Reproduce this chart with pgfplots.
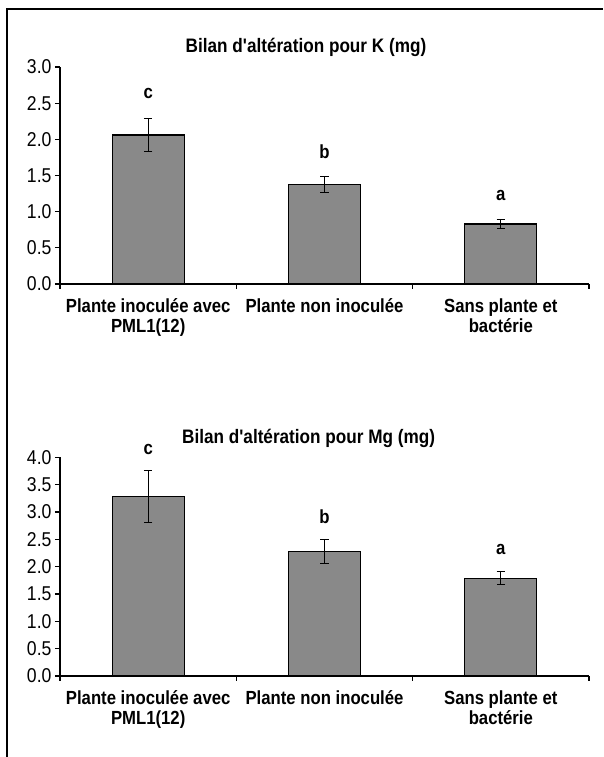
\documentclass[border=0pt]{standalone}
\usepackage{fontspec}
\setmainfont{Liberation Sans}
\newfontfamily\cond[FakeStretch=0.88]{Liberation Sans}
\usepackage{pgfplots}
\pgfplotsset{compat=1.18}
\definecolor{barfill}{RGB}{137,137,137}
\tikzset{lett/.style={font=\cond\bfseries\fontsize{19}{20}\selectfont},
  ttl/.style={font=\cond\bfseries\fontsize{19.5}{22}\selectfont, anchor=base}}
\pgfplotsset{
  mybar/.style={
    scale only axis, width=529pt,
    xmin=-0.5, xmax=2.5, ymin=0,
    axis x line=bottom, axis y line=left,
    axis line style={-, line width=1.1pt, black},
    xtick={-0.5,0.5,1.5,2.5}, xticklabels={},
    extra x ticks={0,1,2},
    extra x tick labels={{Plante inoculée avec\\PML1(12)},{Plante non inoculée},{Sans plante et\\bactérie}},
    extra x tick style={major tick length=0pt},
    xticklabel style={font=\cond\bfseries\fontsize{19}{20}\selectfont, align=center, yshift=-11pt},
    tick align=outside, major tick length=5pt,
    tick style={line width=1.1pt, black},
    ytick distance=0.5,
    yticklabel style={font=\cond\fontsize{20}{22}\selectfont, /pgf/number format/.cd, fixed, fixed zerofill, precision=1, assume math mode=true},
    clip=false,
    ybar, bar width=72pt,
  },
  mybars/.style={fill=barfill, draw=black, line width=1.1pt,
    error bars/.cd, y dir=both, y explicit,
    error bar style={line width=1.1pt, black},
    error mark options={rotate=90, mark size=4.3pt, line width=1.1pt, black}},
}
\begin{document}
\begin{tikzpicture}
\useasboundingbox (0,0) rectangle (603pt,757pt);
\fill[white] (0,0) rectangle (603pt,757pt);
\draw[line width=2pt] (7pt,0) -- (7pt,748pt) -- (603pt,748pt);
% Top: K
\begin{axis}[mybar, at={(60pt,473pt)}, anchor=south west, height=217pt, ymax=3]
\addplot[mybars] coordinates {
  (0,2.06) +- (0,0.23)
  (1,1.38) +- (0,0.11)
  (2,0.83) +- (0,0.065)
};
\node[lett] at (axis cs:0,2.63) {c};
\node[lett] at (axis cs:1,1.83) {b};
\node[lett] at (axis cs:2,1.23) {a};
\node[ttl] at (axis description cs:0.465,1.069) {Bilan d'altération pour K (mg)};
\end{axis}
% Bottom: Mg
\begin{axis}[mybar, at={(60pt,81pt)}, anchor=south west, height=218.7pt, ymax=4]
\addplot[mybars] coordinates {
  (0,3.28) +- (0,0.48)
  (1,2.27) +- (0,0.22)
  (2,1.79) +- (0,0.115)
};
\node[lett] at (axis cs:0,4.15) {c};
\node[lett] at (axis cs:1,2.92) {b};
\node[lett] at (axis cs:2,2.32) {a};
\node[ttl] at (axis description cs:0.47,1.061) {Bilan d'altération pour Mg (mg)};
\end{axis}
\end{tikzpicture}
\end{document}
